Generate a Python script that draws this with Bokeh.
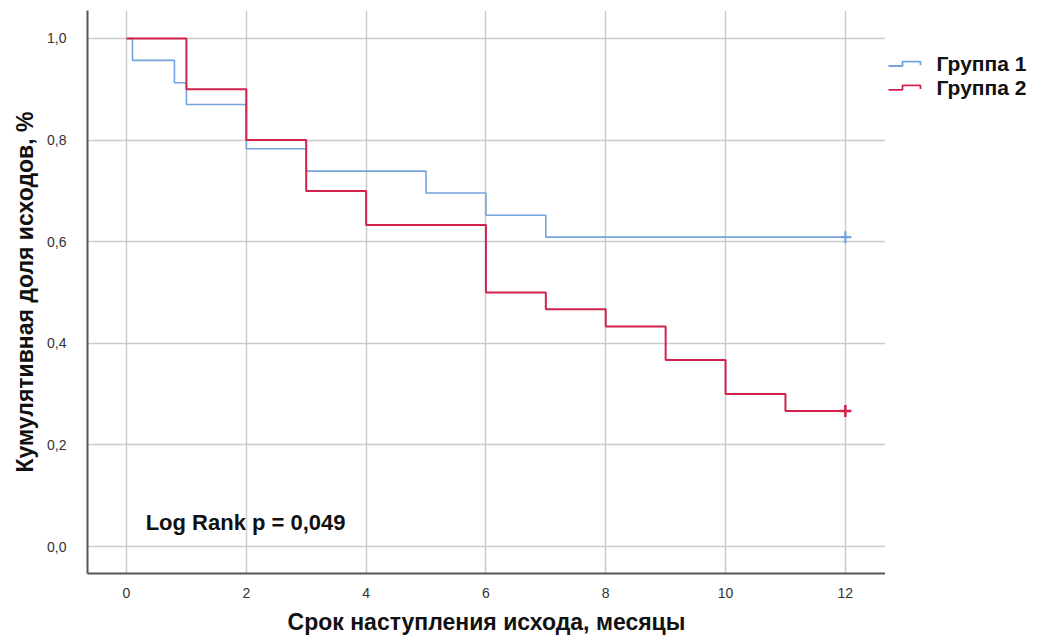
from bokeh.plotting import figure
from bokeh.layouts import row
from bokeh.models import Range1d, FixedTicker, Label
from bokeh.core.properties import value
from bokeh.embed import file_html
from bokeh.resources import INLINE

# Kaplan-Meier step data (time in months, cumulative proportion)
g1_time = [0, 0.1, 0.8, 1.0, 2.0, 3.0, 5.0, 6.0, 7.0, 12.0]
g1_surv = [1.0, 0.957, 0.913, 0.870, 0.783, 0.739, 0.696, 0.652, 0.609, 0.609]
g2_time = [0, 1.0, 2.0, 3.0, 4.0, 6.0, 7.0, 8.0, 9.0, 10.0, 11.0, 12.0]
g2_surv = [1.0, 0.900, 0.800, 0.700, 0.633, 0.500, 0.467, 0.433, 0.367, 0.300, 0.267, 0.267]
cens_time = [12.0, 12.0]
cens_surv = [0.609, 0.267]
group_names = ["Группа 1", "Группа 2"]
x_ticks = [0, 2, 4, 6, 8, 10, 12]
y_ticks = [0.0, 0.2, 0.4, 0.6, 0.8, 1.0]
y_tick_labels = ["0,0", "0,2", "0,4", "0,6", "0,8", "1,0"]
p_text = "Log Rank p = 0,049"

BLUE = "#74a3de"
RED = "#d2224c"
COLORS = [BLUE, RED]
FONT = "Liberation Sans"

p = figure(width=885, height=639, output_backend="svg", toolbar_location=None,
           x_range=Range1d(-0.651, 12.67), y_range=Range1d(-0.0531, 1.0551),
           min_border_left=87, min_border_right=0, min_border_top=10,
           min_border_bottom=66)
p.outline_line_color = None
p.background_fill_color = "white"
p.border_fill_color = "white"

p.step(g1_time, g1_surv, mode="after", line_color=BLUE, line_width=1.6)
p.step(g2_time, g2_surv, mode="after", line_color=RED, line_width=2)
p.scatter([cens_time[0]], [cens_surv[0]], marker="cross", size=12, line_width=2.2,
          line_color=BLUE)
p.scatter([cens_time[1]], [cens_surv[1]], marker="cross", size=12, line_width=2.5,
          line_color=RED)

# axes
for ax in (p.xaxis[0], p.yaxis[0]):
    ax.axis_line_color = "#555555"
    ax.axis_line_width = 2
    ax.major_tick_line_color = None
    ax.minor_tick_line_color = None
    ax.major_label_text_font = FONT
    ax.major_label_text_font_size = "14px"
    ax.major_label_text_color = "#333333"
    ax.axis_label_text_font = FONT
    ax.axis_label_text_font_style = "bold"
    ax.axis_label_text_font_size = "23px"
    ax.axis_label_text_color = "#111111"

p.xaxis.ticker = FixedTicker(ticks=x_ticks)
p.yaxis.ticker = FixedTicker(ticks=y_ticks)
p.yaxis.major_label_overrides = {t: l for t, l in zip(y_ticks, y_tick_labels)}
p.xaxis.major_label_standoff = 8
p.yaxis.major_label_standoff = 15
p.xaxis.axis_label_standoff = 8
p.yaxis.axis_label_standoff = 6
p.xaxis.axis_label = "Срок наступления исхода, месяцы"
p.yaxis.axis_label = "Кумулятивная доля исходов, %"

p.xgrid.grid_line_color = "#cccccc"
p.ygrid.grid_line_color = "#cccccc"
p.xgrid.grid_line_width = 1.5
p.ygrid.grid_line_width = 1.5

p.add_layout(Label(x=0.32, y=0.047, text=p_text, text_font=FONT,
                   text_font_style="bold", text_font_size="22px",
                   text_color="#111111", text_baseline="middle"))

# legend panel (pixel-like coordinates, y downward)
leg = figure(width=155, height=639, output_backend="svg", toolbar_location=None,
             x_range=Range1d(0, 155), y_range=Range1d(639, 0),
             x_axis_type=None, y_axis_type=None,
             min_border_left=0, min_border_right=0, min_border_top=0,
             min_border_bottom=0)
leg.outline_line_color = None
leg.xgrid.visible = False
leg.ygrid.visible = False
row_y = [60, 87]
for i, name in enumerate(group_names):
    y0 = row_y[i]
    leg.line([3, 17, 17, 35, 35], [y0 + 3, y0 + 3, y0 - 2, y0 - 2, y0 + 2],
             line_color=COLORS[i], line_width=1.8)
    leg.text([51], [y0], text=[name], text_font=value(FONT),
             text_font_style="bold", text_font_size="21px",
             text_color="#111111", text_baseline="middle", text_align="left")

open("out.html", "w").write(file_html(row(p, leg), INLINE))
